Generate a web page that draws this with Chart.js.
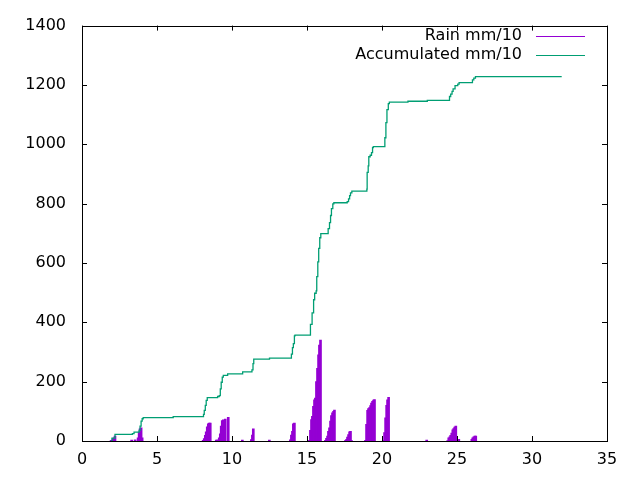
<!DOCTYPE html>
<html>
<head>
<meta charset="utf-8">
<script src="https://cdn.jsdelivr.net/npm/chart.js@4.4.1/dist/chart.umd.min.js"></script>
<style>
	html, body { margin: 0; padding: 0; background: #fff; }
	#wrap { width: 640px; height: 480px; }
</style>
</head>
<body>
<div id="wrap"><canvas id="rain-chart" width="640" height="480"></canvas></div>
<script>
// rain impulses (mm/10), x position and height
var rainX = [1.94, 2.00, 2.07, 2.14, 2.20,
	3.31, 3.54,
	3.74, 3.81, 3.87, 3.94, 4.01,
	8.08, 8.15, 8.22, 8.28, 8.35, 8.42, 8.48, 8.55,
	8.95, 9.02, 9.08,
	9.15, 9.22, 9.28, 9.35, 9.42,
	9.55, 9.75,
	10.69,
	11.29, 11.36, 11.42,
	12.49,
	13.89, 13.96, 14.03, 14.09, 14.16,
	15.16, 15.23, 15.30, 15.36, 15.43, 15.50, 15.56, 15.63, 15.70, 15.77, 15.83, 15.90,
	16.23, 16.30, 16.37, 16.43, 16.50, 16.57, 16.63, 16.70, 16.77, 16.83,
	17.57, 17.64, 17.70, 17.77, 17.84, 17.90, 17.97,
	18.90, 18.97, 19.04, 19.10, 19.17, 19.24, 19.30, 19.37, 19.44, 19.50,
	20.11, 20.17, 20.24, 20.31, 20.37, 20.44,
	22.98,
	24.38, 24.45, 24.52, 24.58, 24.65, 24.72, 24.78, 24.85, 24.92,
	24.98, 25.12,
	25.99, 26.05, 26.12, 26.19, 26.25];
var rainY = [2, 2, 8, 11, 17,
	3, 4,
	11, 30, 41, 44, 11,
	2, 8, 19, 31, 48, 58, 60, 60,
	3, 3, 3,
	11, 24, 50, 69, 71,
	74, 80,
	3,
	5, 20, 41,
	3,
	4, 20, 33, 58, 60,
	2, 36, 72, 83, 117, 139, 145, 200, 245, 290, 323, 340,
	2, 9, 17, 33, 44, 67, 86, 95, 100, 104,
	2, 6, 13, 22, 31, 33, 1,
	2, 56, 103, 109, 113, 119, 128, 134, 138, 140,
	2, 28, 78, 120, 139, 147,
	3,
	1, 11, 14, 19, 27, 38, 42, 47, 50,
	2, 6,
	6, 11, 14, 17, 17];

// accumulated (mm/10), x where each step happens and value after it
var accX = [1.94, 2.00, 2.20, 3.36, 3.47, 3.81, 3.87, 3.94, 4.01, 4.08, 6.08,
	8.10, 8.15, 8.22, 8.28, 8.35, 9.04, 9.15, 9.22, 9.28, 9.35, 9.42, 9.71, 10.71,
	11.33, 11.40, 11.45, 12.50, 13.96, 14.03, 14.09, 14.16, 14.20,
	15.23, 15.34, 15.44, 15.51, 15.61, 15.65, 15.72, 15.78, 15.85, 15.92,
	16.41, 16.50, 16.57, 16.63, 16.72, 16.79,
	17.68, 17.77, 17.84, 17.90, 17.99,
	18.99, 19.01, 19.08, 19.12, 19.21, 19.30, 19.37, 19.42,
	20.19, 20.26, 20.33, 20.42, 20.49, 21.73, 23.02,
	24.50, 24.58, 24.67, 24.74, 24.87, 25.05, 25.14,
	26.03, 26.12, 26.23, 31.98];
var accY = [0, 10, 22, 25, 30, 36, 50, 67, 75, 79, 82,
	90, 103, 120, 137, 146, 150, 153, 176, 198, 215, 221, 226, 233,
	240, 261, 276, 279, 293, 315, 328, 354, 357,
	393, 432, 476, 498, 506, 554, 604, 649, 685, 699,
	716, 736, 760, 783, 799, 803,
	807, 816, 827, 836, 842,
	849, 905, 927, 958, 963, 972, 989, 992,
	1022, 1073, 1117, 1137, 1142, 1145, 1148,
	1161, 1169, 1178, 1187, 1198, 1203, 1208,
	1217, 1223, 1228, 1228];

var xTicks = [0, 5, 10, 15, 20, 25, 30, 35];
var yTicks = [0, 200, 400, 600, 800, 1000, 1200, 1400];
var seriesLabels = ['Rain mm/10', 'Accumulated mm/10'];
var seriesColours = ['#9400d3', '#009e73'];

var fontFamily = '"DejaVu Sans", sans-serif';

function to_points(xs, ys){
	var out = [];
	for (var i = 0; i < xs.length; i++) {
		out.push({ x: xs[i], y: ys[i] });
	}
	return out;
}

// gnuplot look: closed frame, inward mirrored ticks, key with text then sample
var gnuplotFrame = {
	id: 'gnuplotFrame',
	afterDraw: function(chart){
		var ctx = chart.ctx;
		var a = chart.chartArea;
		var xs = chart.scales.x;
		var ys = chart.scales.y;
		var len = 5;
		ctx.save();
		ctx.strokeStyle = '#000';
		ctx.lineWidth = 1;
		ctx.beginPath();
		xTicks.forEach(function(v){
			var px = Math.round(xs.getPixelForValue(v)) + 0.5;
			ctx.moveTo(px, a.bottom); ctx.lineTo(px, a.bottom - len);
			ctx.moveTo(px, a.top); ctx.lineTo(px, a.top + len);
		});
		yTicks.forEach(function(v){
			var py = Math.round(ys.getPixelForValue(v)) + 0.5;
			ctx.moveTo(a.left, py); ctx.lineTo(a.left + len, py);
			ctx.moveTo(a.right, py); ctx.lineTo(a.right - len, py);
		});
		ctx.stroke();
		ctx.strokeRect(Math.round(a.left) + 0.5, Math.round(a.top) + 0.5,
			Math.round(a.right - a.left), Math.round(a.bottom - a.top));

		// key
		ctx.font = '16px ' + fontFamily;
		ctx.textAlign = 'right';
		ctx.textBaseline = 'middle';
		for (var i = 0; i < seriesLabels.length; i++) {
			var y = 36 + i * 18.6;
			ctx.fillStyle = '#000';
			ctx.fillText(seriesLabels[i], 522, y);
			ctx.strokeStyle = seriesColours[i];
			ctx.beginPath();
			ctx.moveTo(536, Math.round(y) + 0.5);
			ctx.lineTo(585, Math.round(y) + 0.5);
			ctx.stroke();
		}
		ctx.restore();
	}
};

const rainChartElem = document.getElementById('rain-chart');

var rainChart = new Chart(rainChartElem, {
	type: 'bar',
	data: {
		datasets: [
			{
				type: 'bar',
				label: seriesLabels[0],
				data: to_points(rainX, rainY),
				backgroundColor: seriesColours[0],
				borderWidth: 0,
				barThickness: 2,
				order: 2
			},
			{
				type: 'line',
				label: seriesLabels[1],
				data: to_points(accX, accY),
				borderColor: seriesColours[1],
				backgroundColor: seriesColours[1],
				borderWidth: 1.3,
				stepped: true,
				pointRadius: 0,
				fill: false,
				order: 1
			}
		]
	},
	options: {
		responsive: false,
		animation: false,
		devicePixelRatio: 1,
		layout: {
			padding: { top: 21, right: 33, left: 0, bottom: 0 }
		},
		scales: {
			x: {
				type: 'linear',
				min: 0,
				max: 35,
				offset: false,
				grid: { display: false, drawTicks: false },
				border: { display: false },
				ticks: {
					stepSize: 5,
					padding: 9,
					maxRotation: 0,
					color: '#000',
					font: { family: fontFamily, size: 16 },
					callback: function(v){ return String(v); }
				},
				afterFit: function(scale){ scale.height = 39; }
			},
			y: {
				min: 0,
				max: 1400,
				grid: { display: false, drawTicks: false },
				border: { display: false },
				ticks: {
					stepSize: 200,
					padding: 16,
					color: '#000',
					font: { family: fontFamily, size: 16 },
					callback: function(v){ return String(v); }
				},
				afterFit: function(scale){ scale.width = 82; }
			}
		},
		plugins: {
			legend: { display: false },
			tooltip: { enabled: false }
		}
	},
	plugins: [gnuplotFrame]
});
</script>
</body>
</html>
